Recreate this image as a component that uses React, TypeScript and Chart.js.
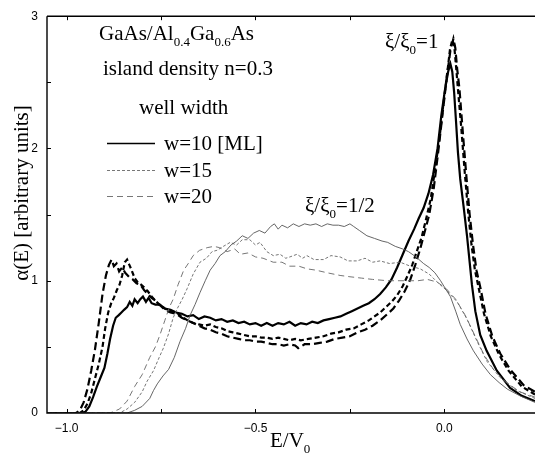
import React, { useEffect, useRef } from "react";
import { Chart, registerables } from "chart.js";

Chart.register(...registerables);

const X_MIN = -1.052;
const X_MAX = 0.24;
const Y_MIN = 0;
const Y_MAX = 3;

const xTickValues = [-1.0, -0.5, 0.0];
const xTickLabels = ["\u22121.0", "\u22120.5", "0.0"];
const yTickValues = [0, 1, 2, 3];
const yTickLabels = ["0", "1", "2", "3"];
const xMarkTicks = [-1.0, -0.75, -0.5, -0.25, 0.0];
const yMarkTicks = [0.5, 1, 1.5, 2, 2.5];

// xi/xi0 = 1 (thick curves)
const thickW10: number[][] = [
  [-1.052, 0], [-0.96, 0], [-0.95, 0.01], [-0.94, 0.05], [-0.93, 0.12], [-0.92, 0.2], [-0.91, 0.27], [-0.9, 0.34],
  [-0.892, 0.45], [-0.885, 0.56], [-0.877, 0.66], [-0.87, 0.72], [-0.862, 0.74], [-0.855, 0.76], [-0.848, 0.78],
  [-0.84, 0.8], [-0.833, 0.84], [-0.826, 0.81], [-0.82, 0.86], [-0.812, 0.83], [-0.805, 0.86], [-0.798, 0.88],
  [-0.79, 0.84], [-0.783, 0.87], [-0.775, 0.83], [-0.765, 0.82], [-0.753, 0.82], [-0.74, 0.79], [-0.725, 0.78],
  [-0.71, 0.76], [-0.695, 0.75], [-0.68, 0.73], [-0.665, 0.74], [-0.65, 0.71], [-0.635, 0.73], [-0.62, 0.72],
  [-0.605, 0.7], [-0.59, 0.71], [-0.575, 0.69], [-0.56, 0.7], [-0.545, 0.68], [-0.53, 0.69], [-0.515, 0.67],
  [-0.5, 0.68], [-0.485, 0.66], [-0.47, 0.68], [-0.455, 0.66], [-0.44, 0.68], [-0.425, 0.67], [-0.41, 0.69],
  [-0.395, 0.66], [-0.38, 0.68], [-0.365, 0.67], [-0.35, 0.69], [-0.335, 0.68], [-0.32, 0.7], [-0.305, 0.71],
  [-0.29, 0.72], [-0.275, 0.73], [-0.26, 0.75], [-0.245, 0.77], [-0.23, 0.79], [-0.215, 0.81], [-0.2, 0.83],
  [-0.185, 0.86], [-0.17, 0.9], [-0.155, 0.95], [-0.14, 1.01], [-0.125, 1.1], [-0.11, 1.2], [-0.095, 1.3],
  [-0.08, 1.39], [-0.068, 1.47], [-0.055, 1.55], [-0.042, 1.66], [-0.03, 1.8], [-0.018, 2.0], [-0.008, 2.25],
  [0.002, 2.45], [0.01, 2.58], [0.016, 2.64], [0.021, 2.58], [0.026, 2.42], [0.031, 2.2], [0.036, 1.97],
  [0.042, 1.77], [0.051, 1.56], [0.06, 1.34], [0.067, 1.14], [0.073, 0.97], [0.082, 0.77], [0.095, 0.59],
  [0.112, 0.47], [0.139, 0.32], [0.174, 0.19], [0.205, 0.13], [0.24, 0.09],
];

const thickW15: number[][] = [
  [-1.052, 0], [-0.965, 0], [-0.955, 0.02], [-0.945, 0.07], [-0.935, 0.15], [-0.925, 0.26], [-0.915, 0.37],
  [-0.905, 0.5], [-0.898, 0.64], [-0.89, 0.76], [-0.882, 0.83], [-0.875, 0.87], [-0.867, 0.93], [-0.86, 0.97],
  [-0.853, 1.04], [-0.846, 1.14], [-0.84, 1.16], [-0.834, 1.12], [-0.828, 1.08], [-0.82, 1.02], [-0.812, 0.99],
  [-0.803, 0.97], [-0.795, 0.95], [-0.785, 0.92], [-0.775, 0.88], [-0.765, 0.85], [-0.755, 0.82], [-0.74, 0.79],
  [-0.725, 0.77], [-0.71, 0.76], [-0.695, 0.73], [-0.68, 0.7], [-0.665, 0.68], [-0.65, 0.67], [-0.635, 0.66],
  [-0.62, 0.67], [-0.605, 0.65], [-0.59, 0.64], [-0.575, 0.62], [-0.56, 0.61], [-0.545, 0.6], [-0.53, 0.59],
  [-0.515, 0.58], [-0.5, 0.58], [-0.485, 0.57], [-0.47, 0.57], [-0.455, 0.56], [-0.44, 0.57], [-0.425, 0.56],
  [-0.41, 0.55], [-0.395, 0.56], [-0.38, 0.55], [-0.36, 0.56], [-0.34, 0.57], [-0.32, 0.58], [-0.3, 0.6],
  [-0.28, 0.61], [-0.26, 0.63], [-0.24, 0.64], [-0.22, 0.67], [-0.2, 0.7], [-0.185, 0.73], [-0.17, 0.76],
  [-0.155, 0.8], [-0.14, 0.84], [-0.125, 0.89], [-0.11, 0.96], [-0.097, 1.04], [-0.085, 1.12], [-0.072, 1.23],
  [-0.06, 1.33], [-0.048, 1.47], [-0.036, 1.62], [-0.024, 1.85], [-0.012, 2.1], [-0.002, 2.35], [0.008, 2.58],
  [0.015, 2.75], [0.021, 2.82], [0.026, 2.78], [0.031, 2.62], [0.036, 2.45], [0.045, 2.15], [0.054, 1.82],
  [0.063, 1.52], [0.072, 1.27], [0.081, 1.08], [0.092, 0.93], [0.105, 0.75], [0.123, 0.58], [0.145, 0.44],
  [0.17, 0.32], [0.205, 0.2], [0.24, 0.14],
];

const thickW20: number[][] = [
  [-1.052, 0], [-0.975, 0], [-0.965, 0.02], [-0.955, 0.08], [-0.945, 0.18], [-0.935, 0.32], [-0.925, 0.48],
  [-0.915, 0.68], [-0.905, 0.9], [-0.896, 1.04], [-0.888, 1.12], [-0.881, 1.16], [-0.875, 1.11], [-0.868, 1.13],
  [-0.861, 1.07], [-0.853, 1.1], [-0.845, 1.06], [-0.835, 1.03], [-0.825, 1.01], [-0.815, 0.98], [-0.805, 0.97],
  [-0.795, 0.93], [-0.785, 0.9], [-0.775, 0.87], [-0.765, 0.85], [-0.755, 0.82], [-0.74, 0.78], [-0.725, 0.76],
  [-0.71, 0.75], [-0.695, 0.72], [-0.68, 0.7], [-0.665, 0.68], [-0.65, 0.66], [-0.635, 0.64], [-0.62, 0.63],
  [-0.605, 0.61], [-0.59, 0.6], [-0.575, 0.58], [-0.56, 0.57], [-0.545, 0.56], [-0.53, 0.55], [-0.515, 0.55],
  [-0.5, 0.54], [-0.485, 0.54], [-0.47, 0.53], [-0.455, 0.52], [-0.44, 0.52], [-0.425, 0.51], [-0.41, 0.52],
  [-0.395, 0.51], [-0.387, 0.49], [-0.37, 0.52], [-0.35, 0.52], [-0.33, 0.53], [-0.31, 0.54], [-0.29, 0.56],
  [-0.27, 0.57], [-0.25, 0.58], [-0.23, 0.61], [-0.21, 0.63], [-0.19, 0.66], [-0.17, 0.7], [-0.15, 0.75],
  [-0.135, 0.79], [-0.12, 0.85], [-0.105, 0.92], [-0.09, 1.01], [-0.077, 1.12], [-0.064, 1.24], [-0.052, 1.37],
  [-0.04, 1.5], [-0.028, 1.7], [-0.016, 1.98], [-0.004, 2.28], [0.007, 2.55], [0.016, 2.74], [0.024, 2.83],
  [0.029, 2.76], [0.034, 2.6], [0.04, 2.45], [0.049, 2.12], [0.058, 1.8], [0.067, 1.5], [0.076, 1.27],
  [0.085, 1.08], [0.096, 0.94], [0.109, 0.75], [0.127, 0.58], [0.148, 0.45], [0.174, 0.33], [0.21, 0.21],
  [0.24, 0.16],
];

// xi/xi0 = 1/2 (thin curves)
const thinW10: number[][] = [
  [-1.052, 0], [-0.84, 0], [-0.82, 0.02], [-0.8, 0.05], [-0.78, 0.11], [-0.77, 0.17], [-0.76, 0.22],
  [-0.745, 0.28], [-0.73, 0.33], [-0.715, 0.42], [-0.7, 0.54], [-0.685, 0.64], [-0.673, 0.74], [-0.66, 0.82],
  [-0.647, 0.91], [-0.633, 1.0], [-0.62, 1.08], [-0.607, 1.13], [-0.594, 1.19], [-0.58, 1.22], [-0.565, 1.27],
  [-0.55, 1.3], [-0.535, 1.34], [-0.52, 1.32], [-0.505, 1.36], [-0.49, 1.38], [-0.475, 1.36], [-0.46, 1.41],
  [-0.45, 1.43], [-0.44, 1.39], [-0.43, 1.42], [-0.415, 1.4], [-0.4, 1.43], [-0.385, 1.41], [-0.37, 1.43],
  [-0.355, 1.42], [-0.34, 1.43], [-0.325, 1.41], [-0.31, 1.43], [-0.295, 1.42], [-0.28, 1.42], [-0.265, 1.41],
  [-0.25, 1.43], [-0.24, 1.41], [-0.225, 1.38], [-0.205, 1.34], [-0.185, 1.32], [-0.165, 1.3], [-0.15, 1.29],
  [-0.13, 1.26], [-0.11, 1.24], [-0.095, 1.22], [-0.075, 1.18], [-0.055, 1.13], [-0.04, 1.1], [-0.025, 1.06],
  [-0.01, 1.0], [0.005, 0.93], [0.016, 0.88], [0.03, 0.77], [0.042, 0.67], [0.06, 0.56], [0.077, 0.47],
  [0.1, 0.37], [0.122, 0.29], [0.145, 0.23], [0.167, 0.18], [0.2, 0.13], [0.24, 0.08],
];

const thinW15: number[][] = [
  [-1.052, 0], [-0.86, 0], [-0.84, 0.03], [-0.82, 0.08], [-0.8, 0.16], [-0.787, 0.24], [-0.77, 0.32],
  [-0.755, 0.42], [-0.744, 0.49], [-0.73, 0.6], [-0.718, 0.72], [-0.707, 0.79], [-0.694, 0.86], [-0.681, 0.94],
  [-0.665, 1.05], [-0.647, 1.14], [-0.63, 1.17], [-0.615, 1.22], [-0.602, 1.23], [-0.585, 1.26], [-0.567, 1.29],
  [-0.55, 1.27], [-0.535, 1.31], [-0.515, 1.31], [-0.5, 1.27], [-0.488, 1.29], [-0.47, 1.22], [-0.453, 1.19],
  [-0.435, 1.2], [-0.42, 1.17], [-0.409, 1.18], [-0.39, 1.2], [-0.375, 1.17], [-0.364, 1.19], [-0.345, 1.16],
  [-0.32, 1.16], [-0.3, 1.19], [-0.276, 1.18], [-0.255, 1.15], [-0.231, 1.15], [-0.21, 1.17], [-0.19, 1.14],
  [-0.17, 1.15], [-0.145, 1.13], [-0.117, 1.14], [-0.09, 1.11], [-0.064, 1.09], [-0.04, 1.05], [-0.019, 0.99],
  [0.005, 0.93], [0.034, 0.84], [0.06, 0.71], [0.087, 0.54], [0.113, 0.39], [0.147, 0.27], [0.192, 0.17],
  [0.24, 0.11],
];

const thinW20: number[][] = [
  [-1.052, 0], [-0.885, 0], [-0.86, 0.03], [-0.84, 0.09], [-0.82, 0.2], [-0.8, 0.29], [-0.78, 0.42],
  [-0.765, 0.5], [-0.753, 0.59], [-0.74, 0.7], [-0.728, 0.8], [-0.718, 0.86], [-0.705, 0.97], [-0.69, 1.08],
  [-0.678, 1.13], [-0.665, 1.19], [-0.648, 1.23], [-0.628, 1.25], [-0.61, 1.26], [-0.595, 1.25], [-0.575, 1.22],
  [-0.555, 1.24], [-0.54, 1.2], [-0.52, 1.21], [-0.5, 1.18], [-0.48, 1.17], [-0.453, 1.14], [-0.43, 1.14],
  [-0.41, 1.11], [-0.385, 1.11], [-0.364, 1.09], [-0.34, 1.08], [-0.31, 1.06], [-0.276, 1.04], [-0.25, 1.03],
  [-0.22, 1.02], [-0.19, 1.01], [-0.15, 1.0], [-0.12, 1.0], [-0.098, 1.0], [-0.07, 1.0], [-0.045, 1.01],
  [-0.019, 0.99], [0.005, 0.94], [0.03, 0.86], [0.055, 0.74], [0.08, 0.59], [0.105, 0.44], [0.13, 0.33],
  [0.16, 0.24], [0.2, 0.16], [0.24, 0.12],
];

const legendLabels = ["w=10 [ML]", "w=15", "w=20"];

const SERIF = '"Liberation Serif", "Times New Roman", serif';
const SANS = '"Liberation Sans", Arial, sans-serif';

type Part = { t: string; sub?: boolean };

function drawRich(ctx: CanvasRenderingContext2D, x: number, y: number, parts: Part[], size: number) {
  let cx = x;
  for (const p of parts) {
    const fs = p.sub ? Math.round(size * 0.62) : size;
    ctx.font = `${fs}px ${SERIF}`;
    const dy = p.sub ? size * 0.3 : 0;
    ctx.fillText(p.t, cx, y + dy);
    cx += ctx.measureText(p.t).width;
  }
  return cx - x;
}

function measureRich(ctx: CanvasRenderingContext2D, parts: Part[], size: number) {
  let w = 0;
  for (const p of parts) {
    const fs = p.sub ? Math.round(size * 0.62) : size;
    ctx.font = `${fs}px ${SERIF}`;
    w += ctx.measureText(p.t).width;
  }
  return w;
}

const decorPlugin = {
  id: "decor",
  afterDraw(chart: any) {
    const ctx: CanvasRenderingContext2D = chart.ctx;
    const { left, right, top, bottom } = chart.chartArea;
    const xs = chart.scales.x;
    const ys = chart.scales.y;
    ctx.save();
    ctx.strokeStyle = "#000";
    ctx.lineWidth = 1.4;
    ctx.beginPath();
    ctx.moveTo(left, top);
    ctx.lineTo(left, bottom);
    ctx.lineTo(right, bottom);
    ctx.moveTo(left, top);
    ctx.lineTo(right, top);
    ctx.stroke();
    ctx.lineWidth = 1;
    ctx.beginPath();
    for (const v of xMarkTicks) {
      const px = Math.round(xs.getPixelForValue(v)) + 0.5;
      ctx.moveTo(px, bottom);
      ctx.lineTo(px, bottom - 4);
      ctx.moveTo(px, top);
      ctx.lineTo(px, top + 4);
    }
    for (const v of yMarkTicks) {
      const py = Math.round(ys.getPixelForValue(v)) + 0.5;
      ctx.moveTo(left, py);
      ctx.lineTo(left + 4, py);
    }
    ctx.stroke();

    ctx.fillStyle = "#000";
    ctx.textAlign = "left";
    ctx.textBaseline = "alphabetic";
    const FS = 21;
    drawRich(ctx, 99, 40, [{ t: "GaAs/Al" }, { t: "0.4", sub: true }, { t: "Ga" }, { t: "0.6", sub: true }, { t: "As" }], FS);
    drawRich(ctx, 103, 75, [{ t: "island density n=0.3" }], FS);
    drawRich(ctx, 139, 114, [{ t: "well width" }], FS);

    const legY = [143, 170, 196];
    const legStyles = [
      { color: "#000", width: 1.3, dash: [] as number[] },
      { color: "#777", width: 1, dash: [3, 2] },
      { color: "#777", width: 1.1, dash: [6, 4] },
    ];
    legY.forEach((ly, i) => {
      const s = legStyles[i];
      ctx.strokeStyle = s.color;
      ctx.lineWidth = s.width;
      ctx.setLineDash(s.dash);
      ctx.beginPath();
      ctx.moveTo(107, ly + 0.5);
      ctx.lineTo(155, ly + 0.5);
      ctx.stroke();
      ctx.setLineDash([]);
      drawRich(ctx, 164, ly + 7, [{ t: legendLabels[i] }], FS);
    });

    drawRich(ctx, 385, 48, [{ t: "\u03BE/\u03BE" }, { t: "0", sub: true }, { t: "=1" }], FS);
    drawRich(ctx, 305, 212, [{ t: "\u03BE/\u03BE" }, { t: "0", sub: true }, { t: "=1/2" }], FS);

    drawRich(ctx, 270, 447, [{ t: "E/V" }, { t: "0", sub: true }], FS);

    const yTitle: Part[] = [{ t: "\u03B1(E) [arbitrary units]" }];
    const w = measureRich(ctx, yTitle, 21);
    ctx.translate(28, 193);
    ctx.rotate(-Math.PI / 2);
    drawRich(ctx, -w / 2, 0, yTitle, 21);
    ctx.restore();
  },
};

function toPts(arr: number[][]) {
  return arr.map(([x, y]) => ({ x, y }));
}

export default function App() {
  const ref = useRef<HTMLCanvasElement | null>(null);
  useEffect(() => {
    if (!ref.current) return;
    const chart = new Chart(ref.current, {
      type: "line",
      data: {
        datasets: [
          { data: toPts(thinW10), borderColor: "#555", borderWidth: 0.9, borderDash: [], pointRadius: 0, tension: 0, fill: false },
          { data: toPts(thinW15), borderColor: "#666", borderWidth: 0.9, borderDash: [3, 2], pointRadius: 0, tension: 0, fill: false },
          { data: toPts(thinW20), borderColor: "#666", borderWidth: 0.9, borderDash: [6, 4], pointRadius: 0, tension: 0, fill: false },
          { data: toPts(thickW10), borderColor: "#000", borderWidth: 2.2, borderDash: [], pointRadius: 0, tension: 0, fill: false },
          { data: toPts(thickW15), borderColor: "#000", borderWidth: 2.2, borderDash: [5, 3], pointRadius: 0, tension: 0, fill: false },
          { data: toPts(thickW20), borderColor: "#000", borderWidth: 2.2, borderDash: [8, 4], pointRadius: 0, tension: 0, fill: false },
        ] as any,
      },
      options: {
        animation: false,
        responsive: false,
        devicePixelRatio: 1,
        layout: { padding: { top: 10, right: 0, left: 0, bottom: 0 } },
        plugins: { legend: { display: false }, tooltip: { enabled: false } },
        scales: {
          x: {
            type: "linear",
            min: X_MIN,
            max: X_MAX,
            grid: { display: false, drawTicks: false },
            border: { display: false },
            afterBuildTicks: (s: any) => {
              s.ticks = xTickValues.map((v) => ({ value: v }));
            },
            afterFit: (s: any) => {
              s.height = 44;
            },
            ticks: {
              autoSkip: false,
              maxRotation: 0,
              padding: 8,
              color: "#000",
              font: { family: SANS, size: 12 },
              callback: (_v: any, i: number) => xTickLabels[i],
            },
          },
          y: {
            type: "linear",
            min: Y_MIN,
            max: Y_MAX,
            grid: { display: false, drawTicks: false },
            border: { display: false },
            afterBuildTicks: (s: any) => {
              s.ticks = yTickValues.map((v) => ({ value: v }));
            },
            afterFit: (s: any) => {
              s.width = 47;
            },
            ticks: {
              autoSkip: false,
              padding: 9,
              color: "#000",
              font: { family: SANS, size: 12 },
              callback: (_v: any, i: number) => yTickLabels[i],
            },
          },
        },
      } as any,
      plugins: [decorPlugin],
    });
    return () => chart.destroy();
  }, []);
  return (
    <div style={{ position: "absolute", left: 0, top: 0, width: 535, height: 457, background: "#fff" }}>
      <canvas ref={ref} width={535} height={457} style={{ display: "block", width: 535, height: 457 }} />
    </div>
  );
}
